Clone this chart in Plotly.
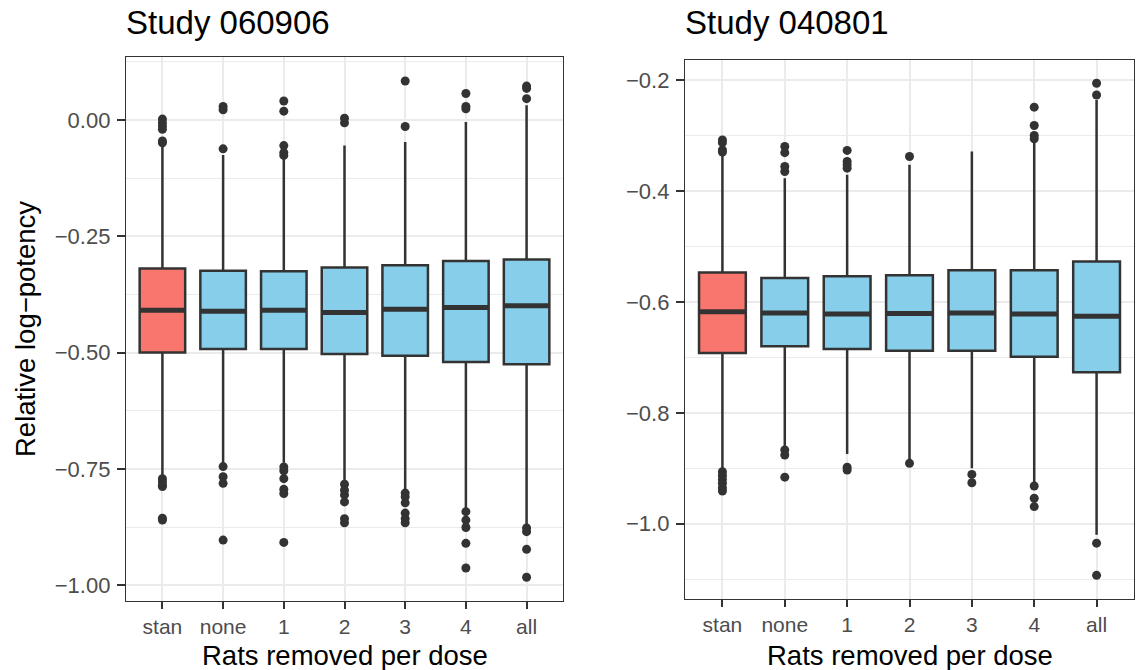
import plotly.graph_objects as go

categories = ["stan", "none", "1", "2", "3", "4", "all"]

# Study 060906 (left panel)
L_q1 = [-0.500, -0.4925, -0.4925, -0.503, -0.507, -0.520, -0.525]
L_med = [-0.409, -0.411, -0.409, -0.414, -0.407, -0.403, -0.399]
L_q3 = [-0.319, -0.324, -0.325, -0.317, -0.312, -0.303, -0.300]
L_lo = [-0.767, -0.738, -0.737, -0.778, -0.797, -0.838, -0.872]
L_hi = [-0.057, -0.075, -0.079, -0.055, -0.047, -0.004, 0.032]
L_out = [
    [0.002, -0.006, -0.013, -0.020, -0.045, -0.049, -0.771, -0.778, -0.785, -0.788, -0.856, -0.860],
    [0.029, 0.022, -0.062, -0.745, -0.767, -0.781, -0.903],
    [0.041, 0.019, -0.055, -0.070, -0.076, -0.746, -0.754, -0.771, -0.794, -0.803, -0.908],
    [0.004, -0.006, -0.783, -0.796, -0.806, -0.821, -0.857, -0.866],
    [0.084, -0.014, -0.802, -0.810, -0.823, -0.845, -0.857, -0.866],
    [0.057, 0.029, 0.024, -0.842, -0.860, -0.876, -0.910, -0.963],
    [0.073, 0.068, 0.046, -0.877, -0.885, -0.923, -0.983],
]

# Study 040801 (right panel)
R_q1 = [-0.692, -0.680, -0.685, -0.688, -0.688, -0.699, -0.727]
R_med = [-0.618, -0.620, -0.622, -0.621, -0.620, -0.622, -0.626]
R_q3 = [-0.547, -0.557, -0.554, -0.552, -0.543, -0.543, -0.527]
R_lo = [-0.903, -0.861, -0.874, -0.885, -0.900, -0.927, -1.020]
R_hi = [-0.332, -0.377, -0.371, -0.353, -0.329, -0.296, -0.236]
R_out = [
    [-0.308, -0.313, -0.326, -0.330, -0.906, -0.913, -0.920, -0.927, -0.935, -0.941],
    [-0.320, -0.331, -0.356, -0.365, -0.867, -0.876, -0.916],
    [-0.327, -0.347, -0.353, -0.359, -0.898, -0.903],
    [-0.338, -0.891],
    [-0.911, -0.926],
    [-0.249, -0.282, -0.300, -0.306, -0.932, -0.954, -0.969],
    [-0.206, -0.227, -1.035, -1.093],
]

L_ticks = [0.0, -0.25, -0.50, -0.75, -1.00]
L_ticktext = ["0.00", "\u22120.25", "\u22120.50", "\u22120.75", "\u22121.00"]
L_minor = [0.125, -0.125, -0.375, -0.625, -0.875]
R_ticks = [-0.2, -0.4, -0.6, -0.8, -1.0]
R_ticktext = ["\u22120.2", "\u22120.4", "\u22120.6", "\u22120.8", "\u22121.0"]
R_minor = [-0.3, -0.5, -0.7, -0.9, -1.1]

RED = "#F8766D"
BLUE = "#87CEEB"
DARK = "#333333"
BOXW = 0.75

fig = go.Figure()


def add_panel(q1, med, q3, lo, hi, outs, xa, ya):
    for i, _ in enumerate(categories):
        fig.add_trace(go.Box(
            x=[i], q1=[q1[i]], median=[med[i]], q3=[q3[i]],
            lowerfence=[lo[i]], upperfence=[hi[i]],
            width=BOXW, whiskerwidth=0, boxpoints=False,
            fillcolor=RED if i == 0 else BLUE,
            line=dict(color=DARK, width=2.5),
            xaxis=xa, yaxis=ya, showlegend=False, hoverinfo="skip",
        ))
    mx, my = [], []
    for i, m in enumerate(med):
        mx += [i - BOXW / 2, i + BOXW / 2, None]
        my += [m, m, None]
    fig.add_trace(go.Scatter(x=mx, y=my, mode="lines",
                             line=dict(color=DARK, width=5),
                             xaxis=xa, yaxis=ya, showlegend=False, hoverinfo="skip"))
    ox, oy = [], []
    for i, vals in enumerate(outs):
        ox += [i] * len(vals)
        oy += vals
    fig.add_trace(go.Scatter(x=ox, y=oy, mode="markers",
                             marker=dict(color=DARK, size=9, line=dict(width=0)),
                             xaxis=xa, yaxis=ya, showlegend=False, hoverinfo="skip"))


add_panel(L_q1, L_med, L_q3, L_lo, L_hi, L_out, "x", "y")
add_panel(R_q1, R_med, R_q3, R_lo, R_hi, R_out, "x2", "y2")

W, H = 1140, 670
FONT = "Liberation Sans, Arial, Helvetica, sans-serif"
GRID = "#EBEBEB"
YTICKFONT = dict(size=22, color="#4D4D4D", family=FONT)
XTICKFONT = dict(size=21, color="#4D4D4D", family=FONT)

xcommon = dict(
    range=[-0.6, 6.6], tickmode="array", tickvals=list(range(len(categories))),
    ticktext=categories, showgrid=True, gridcolor=GRID, gridwidth=1.6,
    zeroline=False, showline=True, mirror=True, linecolor=DARK, linewidth=1.3,
    ticks="outside", ticklen=7, tickwidth=2, tickcolor=DARK,
    tickfont=XTICKFONT,
)


def ycommon(rng, tv, tt, minor):
    return dict(
        range=rng, tickmode="array", tickvals=tv, ticktext=tt,
        showgrid=True, gridcolor=GRID, gridwidth=1.6, zeroline=False,
        showline=True, mirror=True, linecolor=DARK, linewidth=1.3,
        ticks="outside", ticklen=8, tickwidth=2, tickcolor=DARK,
        tickfont=YTICKFONT, ticklabelstandoff=2,
        minor=dict(tickmode="array", tickvals=minor, showgrid=True,
                   gridcolor=GRID, gridwidth=0.8, ticks=""),
    )


fig.update_layout(
    width=W, height=H, autosize=False,
    margin=dict(l=0, r=0, t=0, b=0),
    paper_bgcolor="white", plot_bgcolor="white",
    font=dict(family=FONT),
    boxmode="overlay",
    xaxis=dict(domain=[126 / W, 563 / W], anchor="y", **xcommon),
    yaxis=dict(domain=[1 - 601 / H, 1 - 57 / H], anchor="x",
               **ycommon([-1.034, 0.1355], L_ticks, L_ticktext, L_minor)),
    xaxis2=dict(domain=[685 / W, 1134 / W], anchor="y2", **xcommon),
    yaxis2=dict(domain=[1 - 599 / H, 1 - 60 / H], anchor="x2",
                **ycommon([-1.1356, -0.164], R_ticks, R_ticktext, R_minor)),
    annotations=[
        dict(text="Study 060906", x=124 / W, y=1 - 22 / H, xref="paper", yref="paper",
             xanchor="left", yanchor="middle", showarrow=False,
             font=dict(size=33, color="black", family=FONT)),
        dict(text="Study 040801", x=683 / W, y=1 - 22 / H, xref="paper", yref="paper",
             xanchor="left", yanchor="middle", showarrow=False,
             font=dict(size=33, color="black", family=FONT)),
        dict(text="Rats removed per dose", x=344.5 / W, y=1 - 655 / H, xref="paper", yref="paper",
             xanchor="center", yanchor="middle", showarrow=False,
             font=dict(size=27.5, color="black", family=FONT)),
        dict(text="Rats removed per dose", x=909.5 / W, y=1 - 655 / H, xref="paper", yref="paper",
             xanchor="center", yanchor="middle", showarrow=False,
             font=dict(size=27.5, color="black", family=FONT)),
        dict(text="Relative log\u2212potency", x=25 / W, y=1 - 329 / H, xref="paper", yref="paper",
             xanchor="center", yanchor="middle", showarrow=False, textangle=-90,
             font=dict(size=27.5, color="black", family=FONT)),
    ],
)

fig.write_html(
    "out.html",
    config={"displayModeBar": False},
    post_script="document.body.style.margin='0px';document.body.style.padding='0px';"
                "document.body.style.overflow='hidden';",
)
